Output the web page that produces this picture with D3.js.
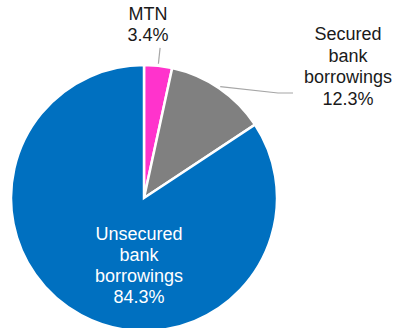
<!DOCTYPE html>
<html>
<head>
<meta charset="utf-8">
<script src="https://cdn.jsdelivr.net/npm/d3@7"></script>
<style>
  html, body { margin: 0; padding: 0; background: #fff; }
  svg { display: block; }
  text { font-family: "Liberation Sans", Arial, sans-serif; font-size: 18px; }
</style>
</head>
<body>
<svg id="chart" width="396" height="328"></svg>
<script>
// Funding mix, share of total (%)
const categories = ["MTN", "Secured bank borrowings", "Unsecured bank borrowings"];
const values = [3.4, 12.3, 84.3];
const colors = ["#FF33CC", "#808080", "#0070C0"];
const labelLines = [["MTN"], ["Secured", "bank", "borrowings"], ["Unsecured", "bank", "borrowings"]];

const W = 396, H = 328;
const cx = 144, cy = 198, R = 133;
const lineH = 21.5;

const svg = d3.select("#chart");
const g = svg.append("g").attr("transform", `translate(${cx},${cy})`);

const data = categories.map((c, i) => ({ name: c, value: values[i], color: colors[i], lines: labelLines[i] }));

const pie = d3.pie().value(d => d.value).sort(null);
const arcs = pie(data);
const arc = d3.arc().innerRadius(0).outerRadius(R);

g.selectAll("path.slice")
  .data(arcs)
  .join("path")
  .attr("class", "slice")
  .attr("d", arc)
  .attr("fill", d => d.data.color)
  .attr("stroke", "#fff")
  .attr("stroke-width", 2.5)
  .attr("stroke-linejoin", "miter");

const pt = (a, r) => [r * Math.sin(a), -r * Math.cos(a)];
const mid = d => (d.startAngle + d.endAngle) / 2;

// MTN: short radial leader, label above
{
  const d = arcs[0];
  const a = mid(d);
  const p0 = pt(a, R + 2), p1 = pt(a, R + 18);
  g.append("line")
    .attr("x1", p0[0]).attr("y1", p0[1]).attr("x2", p1[0]).attr("y2", p1[1])
    .attr("stroke", "#A6A6A6").attr("stroke-width", 1.2);
  const t = svg.append("text").attr("text-anchor", "middle").attr("fill", "#1a1a1a");
  const lines = [...d.data.lines, d3.format(".1f")(d.data.value) + "%"];
  lines.forEach((s, i) => t.append("tspan").attr("x", 148).attr("y", 19.5 + i * lineH).text(s));
}

// Secured bank borrowings: bent leader to the right
{
  const d = arcs[1];
  const a = mid(d);
  const p0 = pt(a, R + 2);
  const elbowX = 278 - cx, endX = 293 - cx, elbowY = 93 - cy;
  g.append("polyline")
    .attr("points", [[p0[0], p0[1]], [elbowX, elbowY], [endX, elbowY]].map(p => p.join(",")).join(" "))
    .attr("fill", "none").attr("stroke", "#A6A6A6").attr("stroke-width", 1.2);
  const t = svg.append("text").attr("text-anchor", "middle").attr("fill", "#1a1a1a");
  const lines = [...d.data.lines, d3.format(".1f")(d.data.value) + "%"];
  lines.forEach((s, i) => t.append("tspan").attr("x", 348).attr("y", 40 + i * lineH).text(s));
}

// Unsecured bank borrowings: label inside the slice
{
  const d = arcs[2];
  const t = svg.append("text").attr("text-anchor", "middle").attr("fill", "#fff");
  const lines = [...d.data.lines, d3.format(".1f")(d.data.value) + "%"];
  lines.forEach((s, i) => t.append("tspan").attr("x", 139).attr("y", 240 + i * 21).text(s));
}
</script>
</body>
</html>
